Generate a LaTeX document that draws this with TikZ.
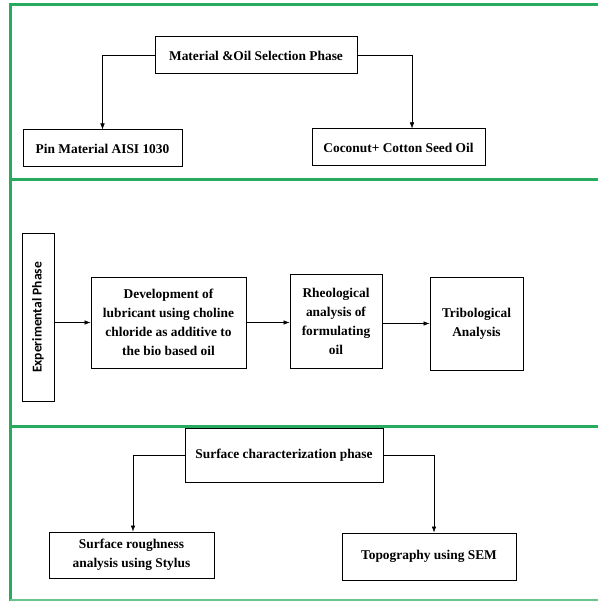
\documentclass[tikz,border=0pt]{standalone}
\usepackage{fontspec}
\setmainfont{Liberation Serif}
\newfontfamily\labelsans{Carlito}
\usetikzlibrary{arrows.meta,positioning,calc}

\definecolor{frameg}{RGB}{38,172,92}

\begin{document}
\begin{tikzpicture}[
  x=1pt, y=-1pt,
  font=\fontsize{13.4}{19}\selectfont\bfseries,
  box/.style={draw, line width=1pt, align=center, inner sep=2pt},
  arr/.style={-{Latex[length=6pt,width=4.5pt]}, line width=0.5pt},
  frame/.style={frameg, line width=3pt},
]
  \useasboundingbox (0,0) rectangle (598,601);

  % section frames
  \draw[frame] (598,5) -- (10,5) -- (10,601);
  \draw[frame] (10,180) -- (598,180);
  \draw[frame] (10,426) -- (598,426);
  \draw[frame, frameg!70] (10,600) -- (598,600);

  % material and oil selection
  \node[box, minimum width=202, minimum height=37] (mat) at (256,55.5) {Material \&Oil Selection Phase};
  \node[box, minimum width=159, minimum height=37] (pin) at (102.5,148.5) {Pin Material AISI 1030};
  \node[box, minimum width=173, minimum height=37] (coco) at (398.5,147.5) {Coconut+ Cotton Seed Oil};

  \draw[arr] (mat.west) -| (pin.north);
  \draw[arr] (mat.east) -| ([xshift=13.5]coco.north);

  % experimental phase
  \node[box, rotate=90, minimum width=167, minimum height=32, font=\labelsans\fontsize{13.5}{15}\selectfont\bfseries] (exp) at (38,317.5) {Experimental Phase};
  \node[box, minimum width=155, minimum height=91] (dev) at (168.5,322.5) {Development of\\lubricant using choline\\chloride as additive to\\the bio based oil};
  \node[box, minimum width=92, minimum height=94] (rheo) at (336,321) {Rheological\\analysis of\\formulating\\oil};
  \node[box, minimum width=93, minimum height=93] (trib) at (476.5,323.5) {Tribological\\Analysis};

  \draw[arr] (exp.south |- dev.west) -- (dev.west);
  \draw[arr] (dev.east) -- (dev.east -| rheo.west);
  \draw[arr] (rheo.east |- trib.west) -- (trib.west);

  % surface characterization
  \node[box, minimum width=198, minimum height=54] (surf) at (284,455) {Surface characterization phase};
  \node[box, minimum width=165, minimum height=46] (rough) at (131.5,555) {Surface roughness\\analysis using Stylus};
  \node[box, minimum width=174, minimum height=47] (topo) at (429,556.5) {Topography using SEM};

  \draw[arr] (surf.west) -| ([xshift=1.5]rough.north);
  \draw[arr] (surf.east) -| ([xshift=5]topo.north);
\end{tikzpicture}
\end{document}
